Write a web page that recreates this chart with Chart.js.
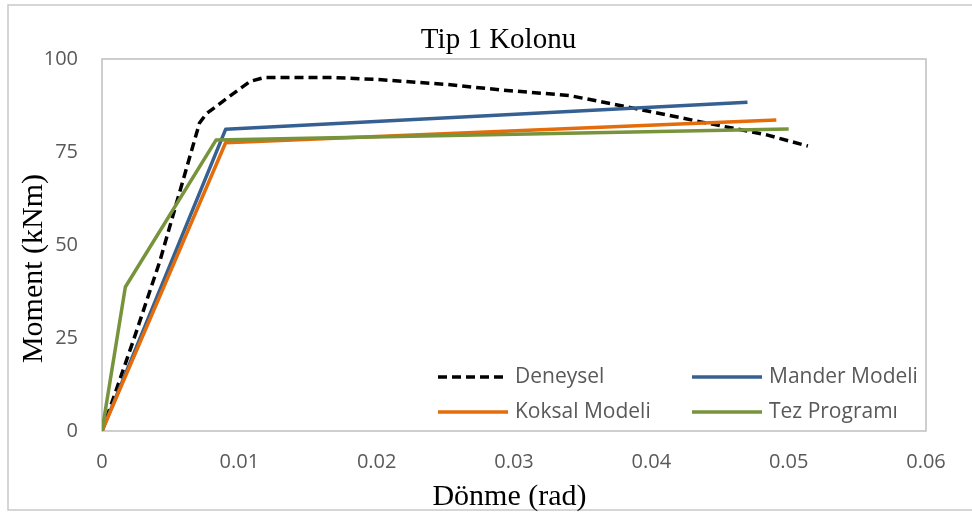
<!DOCTYPE html>
<html>
<head>
<meta charset="utf-8">
<script src="https://cdn.jsdelivr.net/npm/chart.js@4/dist/chart.umd.min.js"></script>
<style>
  html, body { margin: 0; padding: 0; background: #fff; }
  #wrap { width: 972px; height: 513px; }
</style>
</head>
<body>
<div id="wrap"><canvas id="chart" width="972" height="513"></canvas></div>
<script>
// Moment–rotation curves for the type 1 column
const deneyselX = [0, 0.0023, 0.0042, 0.0057, 0.0071, 0.0076, 0.0093, 0.0108, 0.0118, 0.0170, 0.0200, 0.0250, 0.0290, 0.0340, 0.0387, 0.0436, 0.0484, 0.0514];
const deneyselY = [0, 24.5, 45.5, 64.8, 82.8, 85.3, 90.0, 94.0, 95.0, 95.0, 94.5, 93.2, 91.7, 90.2, 86.8, 83.1, 79.6, 76.6];

const manderX = [0, 0.0090, 0.0470];
const manderY = [0, 81.1, 88.4];

const koksalX = [0, 0.0090, 0.0491];
const koksalY = [0, 77.5, 83.6];

const tezX = [0, 0.0017, 0.0083, 0.0500];
const tezY = [0, 38.7, 78.2, 81.2];

const xTicks = [0, 0.01, 0.02, 0.03, 0.04, 0.05, 0.06];
const yTicks = [0, 25, 50, 75, 100];

const seriesNames = ['Deneysel', 'Mander Modeli', 'Koksal Modeli', 'Tez Programı'];
const titleText = 'Tip 1 Kolonu';
const xTitle = 'Dönme (rad)';
const yTitle = 'Moment (kNm)';

const pts = (xs, ys) => xs.map((x, i) => ({ x: x, y: ys[i] }));

const TICK_FONT = '"Open Sans", sans-serif';
const SERIF = '"Liberation Serif", "Times New Roman", serif';

// Plot frame, outer border, titles and an in-plot legend
const decor = {
  id: 'decor',
  beforeDraw(chart) {
    const ctx = chart.ctx;
    ctx.save();
    ctx.fillStyle = '#fff';
    ctx.fillRect(0, 0, chart.width, chart.height);
    ctx.strokeStyle = '#c9c9c9';
    ctx.lineWidth = 1.5;
    ctx.strokeRect(8, 5, chart.width + 10, 505);
    ctx.restore();
  },
  beforeDatasetsDraw(chart) {
    const { ctx, chartArea: a } = chart;
    ctx.save();
    ctx.strokeStyle = '#bfbfbf';
    ctx.lineWidth = 1.5;
    ctx.strokeRect(a.left, a.top, a.right - a.left, a.bottom - a.top);
    ctx.restore();
  },
  afterDraw(chart) {
    const { ctx } = chart;
    ctx.save();
    ctx.fillStyle = '#000';
    ctx.textAlign = 'center';
    ctx.textBaseline = 'alphabetic';
    ctx.font = '29px ' + SERIF;
    ctx.fillText(titleText, 498.5, 48);
    ctx.font = '30px ' + SERIF;
    ctx.fillText(xTitle, 509.5, 505);
    ctx.translate(34, 268.5);
    ctx.rotate(-Math.PI / 2);
    ctx.textBaseline = 'middle';
    ctx.fillText(yTitle, 0, 0);
    ctx.restore();

    // legend: two rows, two columns
    const slots = [
      { x: 438, y: 377 }, { x: 692, y: 377 },
      { x: 438, y: 412 }, { x: 692, y: 412 }
    ];
    ctx.save();
    ctx.font = '21px ' + TICK_FONT;
    ctx.textBaseline = 'middle';
    ctx.textAlign = 'left';
    chart.data.datasets.forEach((ds, i) => {
      const s = slots[i];
      ctx.strokeStyle = ds.borderColor;
      ctx.lineWidth = ds.borderWidth;
      ctx.lineCap = 'butt';
      ctx.setLineDash(ds.borderDash || []);
      ctx.beginPath();
      ctx.moveTo(s.x, s.y);
      ctx.lineTo(s.x + 70, s.y);
      ctx.stroke();
      ctx.setLineDash([]);
      ctx.fillStyle = '#595959';
      ctx.fillText(ds.label, s.x + 77, s.y);
    });
    ctx.restore();
  }
};

new Chart(document.getElementById('chart'), {
  type: 'line',
  data: {
    datasets: [
      { label: seriesNames[0], data: pts(deneyselX, deneyselY), borderColor: '#000000', borderWidth: 3.5, borderDash: [9, 5], order: 4 },
      { label: seriesNames[1], data: pts(manderX, manderY), borderColor: '#376092', borderWidth: 3.5, order: 3 },
      { label: seriesNames[2], data: pts(koksalX, koksalY), borderColor: '#E46C0A', borderWidth: 3.5, order: 2 },
      { label: seriesNames[3], data: pts(tezX, tezY), borderColor: '#77933C', borderWidth: 3.5, order: 1 }
    ]
  },
  options: {
    responsive: false,
    animation: false,
    devicePixelRatio: 1,
    layout: { padding: { top: 59, right: 46, bottom: 0, left: 0 } },
    elements: {
      point: { radius: 0, hoverRadius: 0 },
      line: { tension: 0, fill: false, borderCapStyle: 'butt', borderJoinStyle: 'round' }
    },
    plugins: {
      legend: { display: false },
      tooltip: { enabled: false },
      title: { display: false }
    },
    scales: {
      x: {
        type: 'linear',
        min: 0, max: 0.06,
        afterBuildTicks(s) { s.ticks = xTicks.map(v => ({ value: v })); },
        afterFit(s) { s.height = 82; },
        grid: { display: false, drawTicks: false },
        border: { display: false },
        ticks: {
          padding: 19,
          color: '#595959',
          font: { family: TICK_FONT, size: 20 },
          maxRotation: 0,
          callback: v => String(v)
        }
      },
      y: {
        type: 'linear',
        min: 0, max: 100,
        afterBuildTicks(s) { s.ticks = yTicks.map(v => ({ value: v })); },
        afterFit(s) { s.width = 102; },
        grid: { display: false, drawTicks: false },
        border: { display: false },
        ticks: {
          padding: 24,
          color: '#595959',
          font: { family: TICK_FONT, size: 20 },
          callback: v => String(v)
        }
      }
    }
  },
  plugins: [decor]
});
</script>
</body>
</html>
